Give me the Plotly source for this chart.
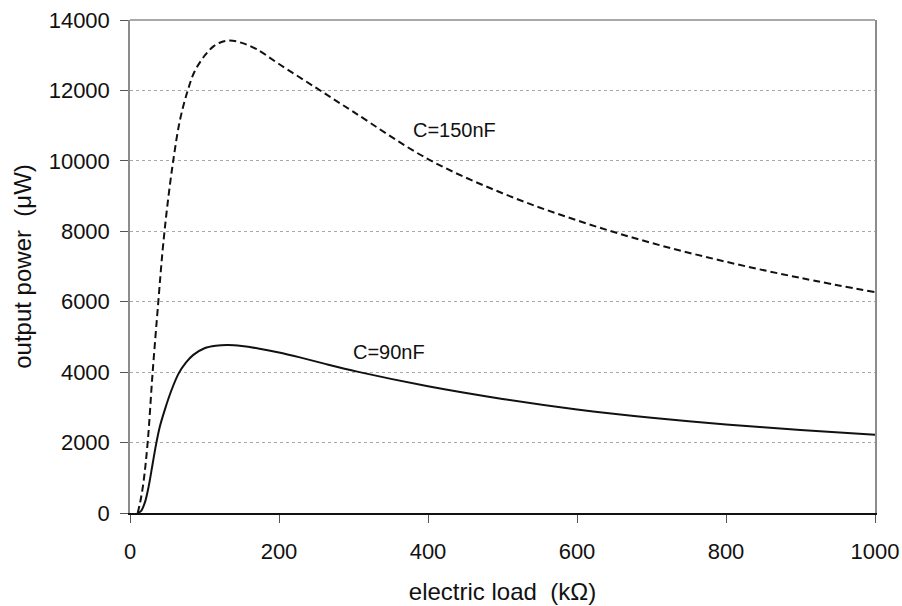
import plotly.graph_objects as go

# C = 90 nF (solid)
load_90 = [10.3, 15, 20, 25, 30, 35, 40, 47, 55, 65, 75, 85, 100, 115, 132, 150, 172, 200, 228, 262,
           305, 400, 500, 600, 700, 800, 900, 1000]
power_90 = [0, 60, 300, 750, 1350, 1950, 2450, 2950, 3450, 3950, 4270, 4490, 4680, 4750, 4770, 4740,
            4672, 4560, 4420, 4235, 4015, 3600, 3240, 2940, 2705, 2515, 2355, 2220]

# C = 150 nF (dashed)
load_150 = [10.3, 13.4, 17.9, 23.7, 30.4, 38, 43.8, 50, 58, 67, 77.5, 87, 100.7, 112, 122, 134, 150,
            170, 200, 250, 300, 400, 500, 600, 700, 800, 900, 1000]
power_150 = [0, 275, 842, 2000, 4000, 6000, 7461, 8700, 10000, 11150, 12000, 12550, 13000, 13250, 13370,
             13418, 13350, 13170, 12750, 12070, 11390, 10050, 9080, 8310, 7670, 7135, 6675, 6270]

x_ticks = [0, 200, 400, 600, 800, 1000]
y_ticks = [0, 2000, 4000, 6000, 8000, 10000, 12000, 14000]

FONT = "Liberation Sans, Arial, sans-serif"

fig = go.Figure()
fig.add_trace(go.Scatter(x=load_150, y=power_150, mode="lines",
                         line=dict(color="#111111", width=2, dash="7px,4px", shape="spline", smoothing=1.0),
                         showlegend=False, hoverinfo="skip"))
fig.add_trace(go.Scatter(x=load_90, y=power_90, mode="lines",
                         line=dict(color="#111111", width=2, shape="spline", smoothing=0.9),
                         showlegend=False, hoverinfo="skip"))

fig.add_annotation(x=436, y=10865, text="C=150nF", showarrow=False,
                   font=dict(family=FONT, size=20, color="#111111"))
fig.add_annotation(x=348, y=4558, text="C=90nF", showarrow=False,
                   font=dict(family=FONT, size=20, color="#111111"))

# top frame line
fig.add_shape(type="line", xref="x domain", yref="y domain", x0=0, x1=1, y0=1, y1=1,
              line=dict(color="#8c8c8c", width=1.5))

fig.update_layout(
    width=902, height=606,
    margin=dict(l=130, r=27, t=20, b=93, autoexpand=False),
    paper_bgcolor="white", plot_bgcolor="white",
    font=dict(family=FONT, color="#111111"),
    showlegend=False,
)
fig.update_xaxes(
    automargin=False,
    range=[0, 1000], tickvals=x_ticks, ticktext=[str(v) for v in x_ticks],
    showgrid=False, zeroline=False,
    showline=True, linecolor="#111111", linewidth=1.5,
    ticks="outside", ticklen=8, tickcolor="#555555", tickwidth=1,
    tickfont=dict(family=FONT, size=22, color="#111111"),
    ticklabelstandoff=10,
    title=dict(text="electric load  (k\u03a9)", font=dict(family=FONT, size=24, color="#111111"), standoff=20),
)
fig.update_yaxes(
    automargin=False,
    range=[0, 14000], tickvals=y_ticks, ticktext=[str(v) for v in y_ticks],
    showgrid=True, gridcolor="#a8a8a8", gridwidth=1, griddash="3px,3px",
    zeroline=False,
    showline=True, linecolor="#8c8c8c", linewidth=1.5, mirror=True,
    ticks="outside", ticklen=8, tickcolor="#555555", tickwidth=1,
    tickfont=dict(family=FONT, size=22, color="#111111"),
    ticklabelstandoff=6,
    title=dict(text="output power  (\u03bcW)", font=dict(family=FONT, size=24, color="#111111"), standoff=10),
)

fig.write_html("out.html")
